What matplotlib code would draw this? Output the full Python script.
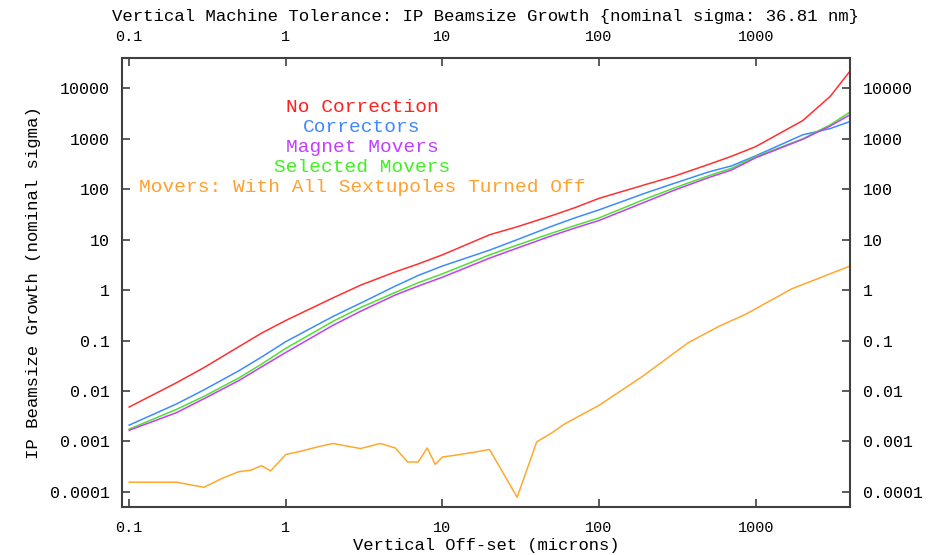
import matplotlib
matplotlib.use("Agg")
import matplotlib.pyplot as plt
from matplotlib.ticker import FixedLocator, NullLocator

MONO = "Liberation Mono"

# offsets (microns) shared by the four main curves
offsets = [0.1, 0.2, 0.3, 0.5, 0.7, 1, 2, 3, 5, 7, 10, 20, 30, 50, 70, 100,
           200, 300, 500, 700, 1000, 2000, 3000, 4000]

no_correction = [4.8e-3, 0.0145, 0.029, 0.075, 0.14, 0.25, 0.7, 1.25, 2.3, 3.3,
                 5.0, 12.5, 18, 30, 43, 66, 125, 180, 310, 450, 700, 2300, 7000, 22000]
correctors = [2.1e-3, 5.5e-3, 0.0105, 0.025, 0.047, 0.095, 0.3, 0.55, 1.2, 1.95,
              3.0, 6.2, 10, 18.5, 27, 39, 85, 130, 220, 290, 460, 1200, 1600, 2200]
magnet_movers = [1.66e-3, 3.7e-3, 7e-3, 0.016, 0.03, 0.058, 0.2, 0.38, 0.8, 1.2,
                 1.8, 4.3, 6.8, 12, 17, 24, 57, 95, 170, 240, 420, 980, 1800, 3000]
selected_movers = [1.75e-3, 4.3e-3, 7.8e-3, 0.018, 0.034, 0.07, 0.24, 0.45, 0.9, 1.4,
                   2.1, 5, 7.8, 13.5, 19, 27, 65, 105, 185, 260, 440, 1000, 1900, 3400]

# sextupoles off curve has its own sampling
sext_off_x = [0.1, 0.2, 0.3, 0.4, 0.5, 0.6, 0.7, 0.8, 1.0, 1.25, 1.6, 2.0, 2.5, 3.0,
              4.0, 5.0, 6.0, 7.0, 8.0, 9.0, 10, 12, 16, 20, 30, 40, 50, 60, 100,
              190, 370, 580, 860, 1700, 4000]
sext_off_y = [1.55e-4, 1.55e-4, 1.23e-4, 1.9e-4, 2.5e-4, 2.7e-4, 3.3e-4, 2.6e-4,
              5.5e-4, 6.4e-4, 7.8e-4, 9.1e-4, 8.0e-4, 7.2e-4, 9.1e-4, 7.4e-4,
              3.9e-4, 3.9e-4, 7.4e-4, 3.5e-4, 4.9e-4, 5.3e-4, 6.1e-4, 6.9e-4,
              7.8e-5, 9.8e-4, 1.48e-3, 2.2e-3, 5.2e-3, 0.0196, 0.09, 0.19, 0.33,
              1.06, 3.0]

labels = ["No Correction", "Correctors", "Magnet Movers", "Selected Movers",
          "Movers: With All Sextupoles Turned Off"]
line_colors = ["#ff3030", "#3c8cff", "#c040f0", "#50e030", "#ffa830"]
text_colors = ["#ff2020", "#4088ff", "#c040ff", "#40f020", "#ffa030"]

x_ticks = [0.1, 1, 10, 100, 1000]
x_tick_labels = ["0.1", "1", "10", "100", "1000"]
y_ticks = [1e-4, 1e-3, 1e-2, 0.1, 1, 10, 100, 1000, 10000]
y_tick_labels = ["0.0001", "0.001", "0.01", "0.1", "1", "10", "100", "1000", "10000"]

fig = plt.figure(figsize=(9.32, 5.55), dpi=100)
ax = fig.add_axes([122 / 932, 1 - 507 / 555, 728 / 932, 449 / 555])

series = [(offsets, no_correction), (offsets, correctors), (offsets, selected_movers),
          (offsets, magnet_movers), (sext_off_x, sext_off_y)]
order = [0, 1, 3, 2, 4]
for (xs, ys), idx in zip(series, order):
    ax.plot(xs, ys, color=line_colors[idx], lw=1.1)

ax.set_xscale("log")
ax.set_yscale("log")
ax.set_xlim(0.09, 4000)
ax.set_ylim(5e-5, 4e4)

ax.xaxis.set_major_locator(FixedLocator(x_ticks))
ax.xaxis.set_minor_locator(NullLocator())
ax.yaxis.set_major_locator(FixedLocator(y_ticks))
ax.yaxis.set_minor_locator(NullLocator())
ax.set_xticklabels(x_tick_labels, family=MONO, fontsize=11)
ax.set_yticklabels(y_tick_labels, family=MONO, fontsize=12)
ax.tick_params(direction="in", length=6, width=1.2, color="#404040",
               top=True, right=True, labeltop=True, labelright=True, pad=10)
ax.tick_params(axis="y", pad=9)
for t in ax.yaxis.get_majorticklabels():
    t.set_family(MONO)
    t.set_fontsize(12)
for t in ax.xaxis.get_majorticklabels():
    t.set_family(MONO)
    t.set_fontsize(11)

for sp in ax.spines.values():
    sp.set_color("#404040")
    sp.set_linewidth(1.5)

ax.set_title("Vertical Machine Tolerance: IP Beamsize Growth {nominal sigma: 36.81 nm}",
             family=MONO, fontsize=12.5, pad=27)
ax.set_xlabel("Vertical Off-set (microns)", family=MONO, fontsize=12.3, labelpad=2)
ax.set_ylabel("IP Beamsize Growth (nominal sigma)", family=MONO, fontsize=12.5, labelpad=6)

# key, centred text lines in line colours
for i, (lab, col) in enumerate(zip(labels, text_colors)):
    ax.text((362 - 122) / 728, (507 - 107 - i * 20) / 449, lab, color=col,
            family=MONO, fontsize=14, ha="center", va="center", transform=ax.transAxes)

fig.savefig("out.png", dpi=100)
